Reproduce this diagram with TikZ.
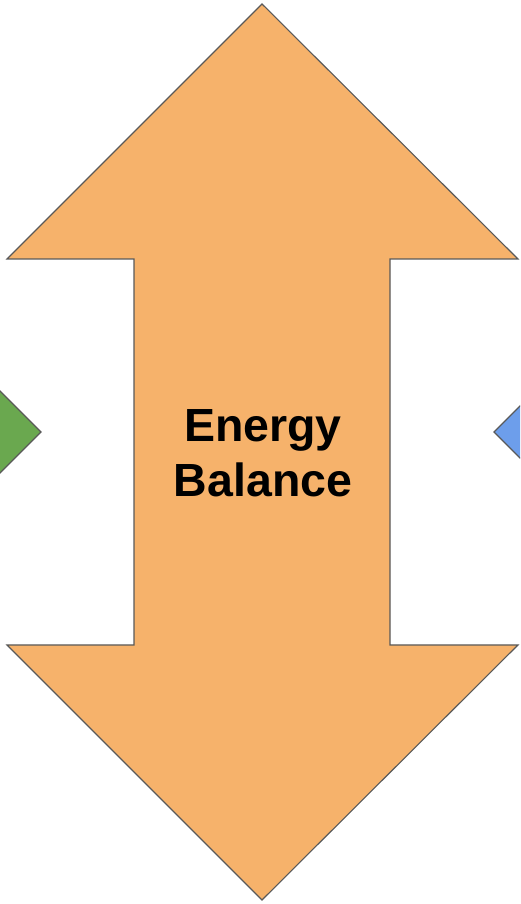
\documentclass[tikz,border=0pt]{standalone}
\usepackage{fontspec}
\setmainfont{Liberation Sans}
\usepackage{tikz}
\usetikzlibrary{positioning}
\definecolor{balorange}{HTML}{F6B26B}
\definecolor{ingreen}{HTML}{6AA84F}
\definecolor{outblue}{HTML}{6D9EEB}
\definecolor{edgegray}{HTML}{595959}

\begin{document}
\begin{tikzpicture}[
    x=1pt, y=1pt,
    arrowshape/.style={draw=edgegray, line width=1.1pt, line join=miter},
    bigtext/.style={font=\bfseries\fontsize{46.5}{55}\selectfont, align=center, text=black}
]
\clip (0,0) rectangle (520,904);

% side arrows (partly off the page)
\draw[arrowshape, fill=ingreen] (41,472) -- (-60,573) -- (-60,371) -- cycle;
\draw[arrowshape, fill=outblue] (494,472) -- (595,573) -- (595,371) -- cycle;

% double arrow
\draw[arrowshape, fill=balorange] (262,900) -- (518,645) -- (390,645) -- (390,259)
    -- (518,259) -- (262,4) -- (7,259) -- (134,259) -- (134,645) -- (7,645) -- cycle;

\node[bigtext] (balance) at (263,451) {Energy\\Balance};

\end{tikzpicture}
\end{document}
